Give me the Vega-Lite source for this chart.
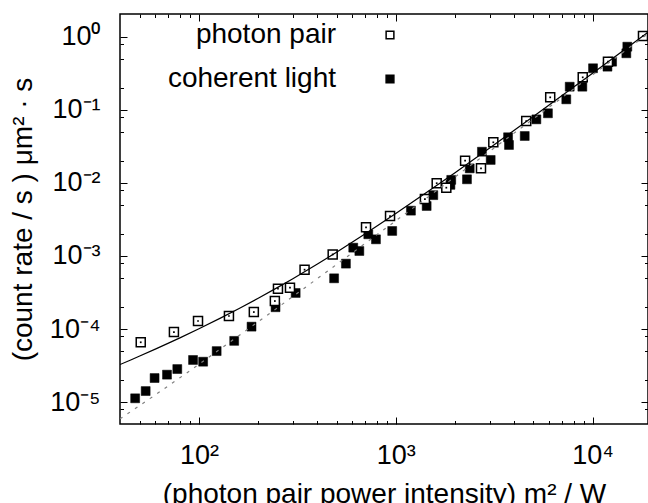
{
  "$schema": "https://vega.github.io/schema/vega-lite/v6.json",
  "width": 528,
  "height": 410,
  "autosize": "none",
  "padding": {"left": 120, "top": 14, "right": 0, "bottom": 79},
  "background": "white",
  "config": {
    "font": "Liberation Sans",
    "view": {"stroke": "#000", "strokeWidth": 1.5},
    "axis": {"grid": false, "domain": false, "tickColor": "#000", "tickWidth": 1, "labelColor": "#000", "titleColor": "#000", "titleFontWeight": "normal", "labelOverlap": false, "labelFlush": false, "labelBound": false}
  },
  "datasets": {
    "pp": [
      {"x": 50.6, "y": 6.6e-5, "series": "photon pair"},
      {"x": 74.6, "y": 9.1e-5, "series": "photon pair"},
      {"x": 98.9, "y": 1.29e-4, "series": "photon pair"},
      {"x": 142, "y": 1.51e-4, "series": "photon pair"},
      {"x": 190, "y": 1.71e-4, "series": "photon pair"},
      {"x": 243, "y": 2.42e-4, "series": "photon pair"},
      {"x": 252, "y": 3.57e-4, "series": "photon pair"},
      {"x": 290, "y": 3.68e-4, "series": "photon pair"},
      {"x": 344, "y": 6.5e-4, "series": "photon pair"},
      {"x": 478, "y": 1.05e-3, "series": "photon pair"},
      {"x": 706, "y": 2.47e-3, "series": "photon pair"},
      {"x": 935, "y": 3.52e-3, "series": "photon pair"},
      {"x": 1406, "y": 6.0e-3, "series": "photon pair"},
      {"x": 1614, "y": 9.9e-3, "series": "photon pair"},
      {"x": 1806, "y": 8.6e-3, "series": "photon pair"},
      {"x": 2250, "y": 2.01e-2, "series": "photon pair"},
      {"x": 2710, "y": 1.58e-2, "series": "photon pair"},
      {"x": 3130, "y": 3.59e-2, "series": "photon pair"},
      {"x": 4600, "y": 7.0e-2, "series": "photon pair"},
      {"x": 6090, "y": 0.148, "series": "photon pair"},
      {"x": 8910, "y": 0.278, "series": "photon pair"},
      {"x": 11970, "y": 0.455, "series": "photon pair"},
      {"x": 18030, "y": 1.02, "series": "photon pair"}
    ],
    "cl": [
      {"x": 47.4, "y": 1.13e-5, "series": "coherent light"},
      {"x": 53.6, "y": 1.42e-5, "series": "coherent light"},
      {"x": 59.5, "y": 2.14e-5, "series": "coherent light"},
      {"x": 68.8, "y": 2.38e-5, "series": "coherent light"},
      {"x": 77.6, "y": 2.84e-5, "series": "coherent light"},
      {"x": 93.3, "y": 3.78e-5, "series": "coherent light"},
      {"x": 105, "y": 3.58e-5, "series": "coherent light"},
      {"x": 123, "y": 5.0e-5, "series": "coherent light"},
      {"x": 151, "y": 6.9e-5, "series": "coherent light"},
      {"x": 185, "y": 1.08e-4, "series": "coherent light"},
      {"x": 245, "y": 1.99e-4, "series": "coherent light"},
      {"x": 310, "y": 3.12e-4, "series": "coherent light"},
      {"x": 486, "y": 4.95e-4, "series": "coherent light"},
      {"x": 558, "y": 7.86e-4, "series": "coherent light"},
      {"x": 608, "y": 1.30e-3, "series": "coherent light"},
      {"x": 653, "y": 1.17e-3, "series": "coherent light"},
      {"x": 725, "y": 1.98e-3, "series": "coherent light"},
      {"x": 793, "y": 1.69e-3, "series": "coherent light"},
      {"x": 959, "y": 2.20e-3, "series": "coherent light"},
      {"x": 1194, "y": 4.17e-3, "series": "coherent light"},
      {"x": 1435, "y": 4.83e-3, "series": "coherent light"},
      {"x": 1551, "y": 6.8e-3, "series": "coherent light"},
      {"x": 1895, "y": 9.4e-3, "series": "coherent light"},
      {"x": 1913, "y": 1.10e-2, "series": "coherent light"},
      {"x": 2300, "y": 1.12e-2, "series": "coherent light"},
      {"x": 2375, "y": 1.58e-2, "series": "coherent light"},
      {"x": 2740, "y": 2.67e-2, "series": "coherent light"},
      {"x": 3035, "y": 2.06e-2, "series": "coherent light"},
      {"x": 3720, "y": 4.21e-2, "series": "coherent light"},
      {"x": 3760, "y": 3.30e-2, "series": "coherent light"},
      {"x": 4520, "y": 4.38e-2, "series": "coherent light"},
      {"x": 5180, "y": 7.4e-2, "series": "coherent light"},
      {"x": 5930, "y": 8.96e-2, "series": "coherent light"},
      {"x": 7350, "y": 0.139, "series": "coherent light"},
      {"x": 7650, "y": 0.207, "series": "coherent light"},
      {"x": 8870, "y": 0.207, "series": "coherent light"},
      {"x": 10050, "y": 0.37, "series": "coherent light"},
      {"x": 11900, "y": 0.389, "series": "coherent light"},
      {"x": 12560, "y": 0.455, "series": "coherent light"},
      {"x": 14840, "y": 0.593, "series": "coherent light"},
      {"x": 15010, "y": 0.73, "series": "coherent light"}
    ],
    "fitSolid": [
      {"x": 39.7, "y": 3.27e-5}, {"x": 45, "y": 3.78e-5}, {"x": 50, "y": 4.28e-5}, {"x": 60, "y": 5.32e-5},
      {"x": 70, "y": 6.42e-5}, {"x": 80, "y": 7.58e-5}, {"x": 100, "y": 1.01e-4}, {"x": 130, "y": 1.434e-4},
      {"x": 160, "y": 1.914e-4}, {"x": 200, "y": 2.64e-4}, {"x": 250, "y": 3.69e-4}, {"x": 300, "y": 4.89e-4},
      {"x": 400, "y": 7.76e-4}, {"x": 500, "y": 1.125e-3}, {"x": 700, "y": 2.009e-3}, {"x": 1000, "y": 3.8e-3},
      {"x": 1500, "y": 8.03e-3}, {"x": 2000, "y": 1.38e-2}, {"x": 3000, "y": 3.0e-2}, {"x": 5000, "y": 8.1e-2},
      {"x": 7000, "y": 0.1568}, {"x": 10000, "y": 0.317}, {"x": 14000, "y": 0.6174}, {"x": 19120, "y": 1.1467}
    ],
    "fitDashed": [
      {"x": 39.7, "y": 5.92e-6}, {"x": 45, "y": 7.43e-6}, {"x": 50, "y": 9.0e-6}, {"x": 60, "y": 1.26e-5},
      {"x": 70, "y": 1.68e-5}, {"x": 80, "y": 2.16e-5}, {"x": 100, "y": 3.3e-5}, {"x": 130, "y": 5.46e-5},
      {"x": 160, "y": 8.16e-5}, {"x": 200, "y": 1.26e-4}, {"x": 250, "y": 1.95e-4}, {"x": 300, "y": 2.79e-4},
      {"x": 400, "y": 4.92e-4}, {"x": 500, "y": 7.65e-4}, {"x": 700, "y": 1.491e-3}, {"x": 1000, "y": 3.03e-3},
      {"x": 1500, "y": 6.795e-3}, {"x": 2000, "y": 1.206e-2}, {"x": 3000, "y": 2.709e-2}, {"x": 5000, "y": 7.515e-2},
      {"x": 7000, "y": 0.1472}, {"x": 10000, "y": 0.3003}, {"x": 14000, "y": 0.5884}, {"x": 19120, "y": 1.0973}
    ]
  },
  "layer": [
    {
      "data": {"name": "cl"},
      "mark": {"type": "point", "shape": "square", "filled": true, "size": 80, "stroke": "#000", "strokeWidth": 0.5, "opacity": 1},
      "encoding": {
        "x": {"field": "x", "type": "quantitative", "scale": {"type": "log", "domain": [39.7, 19120], "nice": false},
          "axis": {"orient": "top", "values": [50,60,70,80,90,100,200,300,400,500,600,700,800,900,1000,2000,3000,4000,5000,6000,7000,8000,9000,10000],
            "labels": false, "title": null,
            "tickSize": {"condition": {"test": "abs(datum.value/pow(10, round(log(datum.value)/LN10)) - 1) < 1e-6", "value": -7}, "value": -3.5}}},
        "y": {"field": "y", "type": "quantitative", "scale": {"type": "log", "domain": [5.03e-6, 2.044], "nice": false},
          "axis": {"orient": "right", "values": [1, 0.8, 0.5, 0.2, 0.1, 0.08, 0.05, 0.02, 0.01, 0.008, 0.005, 0.002, 0.001, 0.0008, 0.0005, 0.0002, 0.0001, 0.00008, 0.00005, 0.00002, 0.00001, 0.000008],
            "labels": false, "title": null,
            "tickSize": {"condition": {"test": "abs(datum.value/pow(10, round(log(datum.value)/LN10)) - 1) < 1e-6", "value": -7}, "value": -3.5}}},
        "fill": {"field": "series", "type": "nominal",
          "scale": {"domain": ["photon pair", "coherent light"], "range": ["#ffffff", "#000000"]},
          "legend": {"orient": "none", "legendX": 256, "legendY": 7, "title": null, "padding": 0,
            "labelAlign": "right", "labelOffset": -68, "labelLimit": 0, "labelFontSize": 28, "labelFont": "Liberation Sans", "labelColor": "#000",
            "symbolType": "square", "symbolSize": 60, "symbolStrokeColor": "#000", "symbolStrokeWidth": 1.5, "rowPadding": 16}}
      }
    },
    {
      "data": {"name": "pp"},
      "mark": {"type": "point", "shape": "square", "filled": true, "size": 81, "stroke": "#000", "strokeWidth": 1.5, "opacity": 1},
      "encoding": {
        "x": {"field": "x", "type": "quantitative", "scale": {"type": "log", "domain": [39.7, 19120], "nice": false},
          "axis": {"orient": "bottom", "values": [50,60,70,80,90,100,200,300,400,500,600,700,800,900,1000,2000,3000,4000,5000,6000,7000,8000,9000,10000],
            "labelExpr": "abs(datum.value/pow(10, round(log(datum.value)/LN10)) - 1) < 1e-6 ? (round(log(datum.value)/LN10) == 2 ? '10²' : round(log(datum.value)/LN10) == 3 ? '10³' : '10⁴') : ''",
            "labelFontSize": 27, "labelPadding": 25,
            "title": "(photon pair power intensity) m² / W", "titleFontSize": 28, "titlePadding": 9,
            "tickSize": {"condition": {"test": "abs(datum.value/pow(10, round(log(datum.value)/LN10)) - 1) < 1e-6", "value": -7}, "value": -3.5}}},
        "y": {"field": "y", "type": "quantitative", "scale": {"type": "log", "domain": [5.03e-6, 2.044], "nice": false},
          "axis": {"orient": "left", "values": [1, 0.8, 0.5, 0.2, 0.1, 0.08, 0.05, 0.02, 0.01, 0.008, 0.005, 0.002, 0.001, 0.0008, 0.0005, 0.0002, 0.0001, 0.00008, 0.00005, 0.00002, 0.00001, 0.000008],
            "labelExpr": "abs(datum.value/pow(10, round(log(datum.value)/LN10)) - 1) < 1e-6 ? (round(log(datum.value)/LN10) == 0 ? '10⁰' : round(log(datum.value)/LN10) == -1 ? '10⁻¹' : round(log(datum.value)/LN10) == -2 ? '10⁻²' : round(log(datum.value)/LN10) == -3 ? '10⁻³' : round(log(datum.value)/LN10) == -4 ? '10⁻⁴' : '10⁻⁵') : ''",
            "labelFontSize": 27, "labelPadding": 27,
            "title": "(count rate / s ) μm² · s", "titleFontSize": 28, "titlePadding": 12,
            "tickSize": {"condition": {"test": "abs(datum.value/pow(10, round(log(datum.value)/LN10)) - 1) < 1e-6", "value": -7}, "value": -3.5}}},
        "fill": {"field": "series", "type": "nominal", "scale": {"domain": ["photon pair", "coherent light"], "range": ["#ffffff", "#000000"]}}
      }
    },
    {
      "data": {"name": "pp"},
      "mark": {"type": "point", "shape": "square", "filled": true, "size": 3, "color": "#000", "opacity": 1},
      "encoding": {
        "x": {"field": "x", "type": "quantitative", "scale": {"type": "log", "domain": [39.7, 19120], "nice": false}, "axis": null},
        "y": {"field": "y", "type": "quantitative", "scale": {"type": "log", "domain": [5.03e-6, 2.044], "nice": false}, "axis": null}
      }
    },
    {
      "data": {"name": "fitSolid"},
      "mark": {"type": "line", "color": "#000", "strokeWidth": 1.2, "clip": true},
      "encoding": {
        "x": {"field": "x", "type": "quantitative", "scale": {"type": "log", "domain": [39.7, 19120], "nice": false}, "axis": null},
        "y": {"field": "y", "type": "quantitative", "scale": {"type": "log", "domain": [5.03e-6, 2.044], "nice": false}, "axis": null}
      }
    },
    {
      "data": {"name": "fitDashed"},
      "mark": {"type": "line", "color": "#808080", "strokeWidth": 1.2, "strokeDash": [3, 6], "clip": true},
      "encoding": {
        "x": {"field": "x", "type": "quantitative", "scale": {"type": "log", "domain": [39.7, 19120], "nice": false}, "axis": null},
        "y": {"field": "y", "type": "quantitative", "scale": {"type": "log", "domain": [5.03e-6, 2.044], "nice": false}, "axis": null}
      }
    }
  ],
  "resolve": {"axis": {"x": "independent", "y": "independent"}}
}
